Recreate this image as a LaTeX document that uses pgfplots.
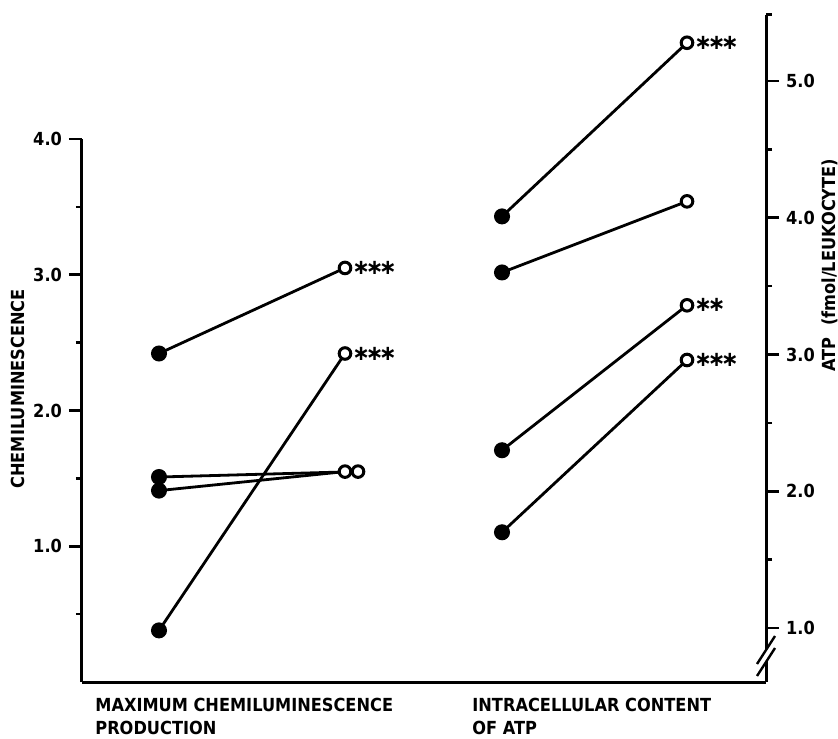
\documentclass[border=0pt]{standalone}
\usepackage{fontspec}
\setmainfont{DejaVu Sans}
\newfontfamily\cond{DejaVu Sans}[FakeStretch=0.9]
\usepackage{pgfplots}
\usepackage{pgfplotstable}
\pgfplotsset{compat=1.18}
\newcommand{\lab}{\cond\bfseries\fontsize{9}{11.5}\selectfont}
\newcommand{\ylab}{\cond\bfseries\fontsize{9}{10}\selectfont}
\newcommand{\stars}[1]{\bfseries\fontsize{10.5}{10.5}\selectfont #1}
\newcommand{\sep}{\kern-2.1pt}
\tikzset{star/.style={pos=1, anchor=west, xshift=3.5pt, inner sep=0pt}}

% x = horizontal position, y = value (before -> after)
\pgfplotstableread{
x y
159 2.42
345 3.05
}\clA
\pgfplotstableread{
x y
159 0.38
345 2.42
}\clB
\pgfplotstableread{
x y
159 1.51
358 1.55
}\clC
\pgfplotstableread{
x y
159 1.41
345 1.55
}\clD
\pgfplotstableread{
x y
502 4.01
687 5.28
}\atpA
\pgfplotstableread{
x y
502 3.60
687 4.12
}\atpB
\pgfplotstableread{
x y
502 2.30
687 3.36
}\atpC
\pgfplotstableread{
x y
502 1.70
687 2.96
}\atpD

% line with filled start mark, then open end mark (+ optional stars)
\newcommand{\pairplot}[2]{%
  \addplot[black, line width=1.4pt, mark=*, mark indices={1}, mark size=3.3pt] table {#1};
  \addplot[draw=none, mark=*, mark indices={2}, mark size=2.9pt,
    mark options={fill=white, draw=black, line width=1.5pt}] table {#1}
    node[star] {\stars{#2}};
}
\begin{document}
\begin{tikzpicture}
\pgfplotsset{
  base/.style={
    scale only axis, width=342pt, xmin=82, xmax=766,
    tick align=outside,
    major tick length=6.5pt, minor tick length=3pt,
    every tick/.style={black, line width=1.3pt},
    axis line style={-, line width=1.5pt},
    tick label style={font=\lab},
    /pgf/number format/assume math mode=true,
    yticklabel style={/pgf/number format/.cd, fixed, fixed zerofill, precision=1},
    ylabel style={font=\ylab, anchor=center},
    clip=false,
  },
}
% left scale: chemiluminescence
\begin{axis}[base, height=271.5pt, ymin=0, ymax=4,
  axis x line*=bottom, axis y line*=left,
  ytick={1,2,3,4}, minor ytick={0.5,1.5,2.5,3.5},
  xtick={95,472}, xtick style={draw=none},
  xticklabels={{MAXIMUM CHEMILUMINESCENCE\\PRODUCTION},{INTRACELLULAR CONTENT\\OF ATP}},
  xticklabel style={anchor=north west, align=left, inner sep=0pt, yshift=-1.5pt, font=\lab},
  ylabel={CHEMILUMINESCENCE},
  ylabel style={at={(axis description cs:-0.0936,0.54)}},
]
\pairplot{\clA}{∗\sep∗\sep∗}
\pairplot{\clB}{∗\sep∗\sep∗}
\pairplot{\clC}{}
\pairplot{\clD}{}
\end{axis}
% right scale: ATP
\begin{axis}[base, height=333.5pt, ymin=0.605, ymax=5.483,
  hide x axis, axis y line*=right,
  ytick={1,2,3,4,5}, minor ytick={1.5,2.5,3.5,4.5},
  ylabel={ATP\ \ (fmol/LEUKOCYTE)},
  ylabel style={at={(axis description cs:1.0936,0.625)}},
]
\pairplot{\atpA}{∗\sep∗\sep∗}
\pairplot{\atpB}{}
\pairplot{\atpC}{∗\sep∗}
\pairplot{\atpD}{∗\sep∗\sep∗}
\end{axis}
% axis break and top hook on the right scale
\fill[white] (337.5pt,3pt) -- (346.5pt,17pt) -- (346.5pt,23pt) -- (337.5pt,9pt) -- cycle;
\draw[line width=1.2pt] (337.5pt,3pt) -- (346.5pt,17pt);
\draw[line width=1.2pt] (337.5pt,9pt) -- (346.5pt,23pt);
\draw[line width=1.5pt] (342pt,333.5pt) -- (345pt,333.5pt);
\pgfresetboundingbox
\path (-41pt,-28pt) rectangle (378pt,341pt);
\end{tikzpicture}
\end{document}
